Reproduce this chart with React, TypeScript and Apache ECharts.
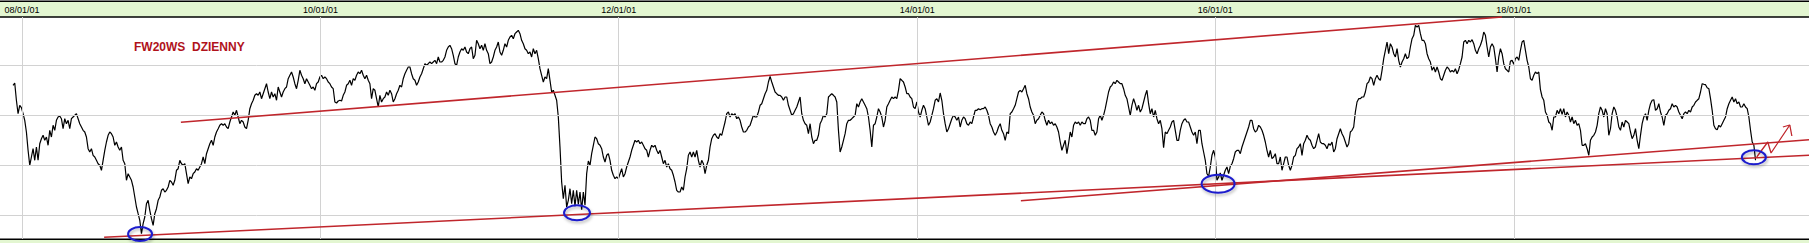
import React, { useEffect, useRef } from 'react';
import * as echarts from 'echarts';

// ---------- data ----------
const chartTitle = 'FW20WS  DZIENNY';
const firstSample = '2007-12-10';
const sampleStepHours = 98; // one reading roughly every four days

// closes, in chronological order
const closes2008_2009 = [
  2797, 2820, 2647, 2513, 2597, 2573, 2513, 2447, 2330, 2147,
  1997, 2080, 2163, 2047, 2180, 2047, 2213, 2263, 2297, 2247,
  2280, 2197, 2347, 2280, 2397, 2347, 2447, 2480, 2490, 2463,
  2363, 2463, 2413, 2447, 2363, 2463, 2480, 2497, 2513, 2463,
  2413, 2380, 2347, 2330, 2280, 2163, 2130, 2163, 2097, 2080,
  2047, 2013, 1997, 1947, 2047, 2147, 2230, 2297, 2330, 2313,
  2280, 2197, 2230, 2180, 2147, 2180, 2047, 2013, 1847, 1913,
  1880, 1847, 1780, 1680, 1580, 1513, 1447, 1313, 1413, 1480,
  1613, 1647, 1547, 1463, 1397, 1513, 1563, 1647, 1680, 1747,
  1763, 1730, 1747, 1780, 1847, 1830, 1797, 1847, 1947, 1963,
  2047, 2013, 1997, 2013, 1913, 1813, 1880, 1863, 1913, 1930,
  1963, 1947, 1980, 2013, 2080, 2013, 2113, 2163, 2213, 2247,
  2197, 2280, 2330, 2363, 2397, 2413, 2397, 2413, 2380, 2363,
  2430, 2480, 2530, 2497, 2547, 2480, 2413, 2447, 2430, 2380,
  2363, 2447, 2563, 2613, 2647, 2697, 2713, 2697, 2730, 2663,
  2713, 2763, 2813, 2730, 2663, 2730, 2680, 2713, 2647, 2780,
  2730, 2680, 2730, 2763, 2780, 2863, 2897, 2930, 2880, 2813,
  2763, 2847,
];
const closes2009_2011 = [
  2947, 2897, 2863, 2813, 2863, 2830, 2797, 2763, 2780, 2747,
  2813, 2830, 2880, 2897, 2863, 2880, 2863, 2830, 2813, 2780,
  2763, 2630, 2620, 2640, 2647, 2640, 2697, 2730, 2797, 2813,
  2847, 2797, 2863, 2847, 2897, 2930, 2913, 2947, 2897, 2863,
  2897, 2847, 2813, 2663, 2763, 2747, 2663, 2580, 2697, 2630,
  2663, 2680, 2730, 2697, 2747, 2713, 2630, 2663, 2713, 2747,
  2797, 2780, 2863, 2913, 2947, 2980, 2980, 2913, 2863, 2847,
  2797, 2830, 2880, 2913, 2963, 3013, 2997, 3013, 3030, 3013,
  3030, 3047, 3013, 3080, 3030, 3030, 3047, 3080, 3147, 3180,
  3197, 3163, 3097, 3013, 2997, 3080, 3130, 3163, 3147, 3180,
  3130, 3113, 3163, 3180, 3063, 3097, 3247, 3213, 3163, 3197,
  3147, 3213, 3147, 3113, 3013, 3030, 3080, 3147, 3180, 3230,
  3130, 3097, 3147, 3213, 3180, 3247, 3280, 3297, 3263, 3313,
  3330, 3347, 3313, 3247, 3213, 3163, 3147, 3113, 3130, 3080,
  3163, 3113, 3147, 3063, 2963, 2897, 2830, 2880, 2863, 2963,
  2847, 2730, 2747, 2697, 2647, 2480, 2180, 1830, 1663, 1797,
  1580, 1647, 1763, 1613, 1747, 1587, 1747, 1607, 1730, 1553,
  1730, 1597, 1913, 2040, 1997, 2113, 2197, 2280, 2263, 2213,
];
const closes2011_2013 = [
  2197, 2163, 2080, 2030, 2097, 2113, 2047, 1947, 1897, 1863,
  1880, 1863, 1913, 1963, 1880, 1913, 1980, 2030, 2080, 2147,
  2197, 2247, 2230, 2247, 2213, 2230, 2197, 2163, 2147, 2080,
  2147, 2197, 2180, 2197, 2147, 2113, 2147, 2080, 2013, 2047,
  1980, 2013, 1963, 1947, 1897, 1830, 1747, 1730, 1730, 1780,
  1747, 1880, 1963, 2097, 2130, 2080, 2130, 2080, 2147, 2047,
  1980, 2047, 2013, 1913, 1997, 2047, 2180, 2263, 2297, 2313,
  2280, 2263, 2313, 2297, 2363, 2430, 2513, 2530, 2480, 2513,
  2497, 2513, 2463, 2480, 2447, 2380, 2330, 2330, 2347, 2380,
  2397, 2447, 2497, 2480, 2480, 2530, 2597, 2613, 2663, 2713,
  2747, 2830, 2887, 2830, 2780, 2730, 2713, 2697, 2697, 2680,
  2647, 2680, 2680, 2597, 2547, 2497, 2513, 2547, 2580, 2630,
  2680, 2513, 2447, 2413, 2397, 2313, 2413, 2280, 2213, 2247,
  2247, 2297, 2413, 2447, 2497, 2480, 2513, 2680, 2697, 2713,
  2697, 2680, 2630, 2347, 2130, 2180, 2247, 2313, 2413, 2447,
  2447, 2463, 2480, 2497, 2613, 2580, 2630, 2663, 2630, 2597,
  2563, 2480, 2347, 2180, 2397, 2413, 2480, 2563, 2530, 2480,
  2380, 2447, 2580, 2613, 2647, 2680, 2663, 2680, 2663, 2747,
];
const closes2013_2015 = [
  2863, 2847, 2830, 2780, 2713, 2713, 2680, 2663, 2580, 2563,
  2630, 2530, 2480, 2547, 2597, 2563, 2480, 2397, 2430, 2497,
  2563, 2647, 2663, 2630, 2720, 2647, 2513, 2413, 2330, 2363,
  2413, 2463, 2497, 2480, 2447, 2480, 2380, 2447, 2480, 2463,
  2413, 2397, 2430, 2413, 2480, 2547, 2547, 2563, 2553, 2563,
  2563, 2580, 2547, 2497, 2413, 2380, 2330, 2297, 2330, 2380,
  2413, 2347, 2313, 2247, 2330, 2313, 2513, 2530, 2563, 2597,
  2663, 2730, 2747, 2730, 2763, 2797, 2713, 2663, 2580, 2530,
  2497, 2413, 2447, 2463, 2497, 2530, 2513, 2447, 2397, 2447,
  2413, 2430, 2397, 2413, 2380, 2330, 2230, 2147, 2197, 2247,
  2113, 2213, 2330, 2280, 2397, 2430, 2413, 2430, 2397, 2430,
  2413, 2413, 2463, 2480, 2447, 2347, 2347, 2297, 2330, 2463,
  2497, 2447, 2497, 2563, 2647, 2730, 2780, 2797, 2830, 2813,
  2847, 2830, 2813, 2813, 2763, 2697, 2663, 2580, 2497, 2597,
  2663, 2613, 2547, 2597, 2530, 2563, 2630, 2697, 2747, 2613,
  2513, 2563, 2480, 2547, 2463, 2413, 2447, 2363, 2173, 2330,
  2313, 2347, 2380, 2430, 2447, 2347, 2247, 2247, 2347, 2413,
  2447, 2463, 2430, 2430, 2380, 2330, 2297, 2330, 2213, 2347,
];
const closes2015_2017 = [
  2347, 2213, 2130, 2047, 1913, 1887, 1980, 2097, 2147, 2080,
  1847, 1880, 1920, 1847, 1897, 1947, 1980, 1913, 1987, 2013,
  2063, 2130, 2147, 2147, 2113, 2180, 2230, 2280, 2330, 2380,
  2447, 2447, 2363, 2330, 2347, 2397, 2380, 2347, 2297, 2230,
  2147, 2080, 2147, 2063, 2080, 2113, 2013, 2013, 2080, 1947,
  2013, 2080, 2080, 1997, 1947, 1997, 2080, 2097, 2163, 2180,
  2213, 2097, 2213, 2247, 2297, 2263, 2247, 2197, 2163, 2180,
  2247, 2313, 2230, 2213, 2213, 2197, 2163, 2213, 2197, 2230,
  2130, 2163, 2263, 2313, 2363, 2313, 2280, 2230, 2180, 2213,
  2330, 2347, 2380, 2530, 2630, 2663, 2663, 2680, 2680, 2730,
  2813, 2830, 2880, 2863, 2797, 2863, 2897, 2863, 2847, 2947,
  3063, 3147, 3230, 3113, 3213, 3180, 3113, 3080, 3163, 3047,
  2980, 3030, 3063, 3113, 3063, 3080, 3180, 3263, 3297, 3397,
  3380, 3397, 3313, 3247, 3247, 3213, 3113, 3063, 3030, 2947,
  2980, 2930, 2980, 2930, 2863, 2847, 2897, 2947, 2980, 2963,
  2930, 2947, 2930, 2963, 2913, 2953, 3013, 3080, 3230, 3247,
  3213, 3247, 3230, 3253, 3213, 3147, 3113, 3163, 3197, 3247,
  3330, 3297, 3180, 3080, 3180, 3213, 3180, 3063, 2930, 3080,
];
const closes2017_2019 = [
  3163, 3113, 3013, 2963, 2947, 2930, 3040, 3047, 3007, 3063,
  3080, 3047, 3147, 3230, 3247, 3147, 3047, 2980, 2863, 2847,
  2897, 2930, 2913, 2930, 2753, 2680, 2647, 2530, 2497, 2430,
  2413, 2347, 2480, 2480, 2547, 2513, 2563, 2507, 2563, 2480,
  2530, 2497, 2430, 2480, 2413, 2447, 2397, 2413, 2347, 2197,
  2197, 2213, 2163, 2097, 2247, 2280, 2297, 2330, 2397, 2513,
  2580, 2547, 2480, 2563, 2513, 2297, 2363, 2513, 2580, 2547,
  2480, 2380, 2347, 2430, 2380, 2447, 2430, 2413, 2330, 2263,
  2297, 2363, 2247, 2163, 2297, 2413, 2480, 2513, 2447, 2547,
  2613, 2647, 2653, 2547, 2563, 2613, 2530, 2480, 2397, 2497,
  2513, 2547, 2563, 2613, 2580, 2597, 2580, 2530, 2497, 2463,
  2513, 2530, 2513, 2547, 2530, 2580, 2597, 2630, 2647, 2663,
  2730, 2813, 2807, 2803, 2773, 2763, 2663, 2547, 2397, 2363,
  2353, 2397, 2380, 2413, 2447, 2480, 2563, 2613, 2647, 2680,
  2630, 2663, 2613, 2630, 2580, 2580, 2613, 2580, 2563, 2480,
  2347, 2230, 2197, 2047,
];

const axisStart = '2007-11-08';
const axisEnd = '2019-12-25';
const valueMin = 1260;
const valueMax = 3480;

const yearTicks = ['2008-01-01', '2010-01-01', '2012-01-01', '2014-01-01', '2016-01-01', '2018-01-01'];
const yearTickLabels = ['08/01/01', '10/01/01', '12/01/01', '14/01/01', '16/01/01', '18/01/01'];
const levelLines = [1500, 2000, 2500, 3000];

// trend lines: [start, end] as [date, value]
const trendLines: [string, number][][] = [
  [['2008-07-20', 1277], ['2019-12-25', 2097]],
  [['2014-09-12', 1643], ['2019-12-25', 2253]],
  [['2009-01-24', 2427], ['2017-12-03', 3480]],
];
// circled lows
const lowMarks: [string, number][] = [
  ['2008-10-16', 1310],
  ['2011-09-21', 1522],
  ['2016-01-08', 1812],
  ['2019-08-12', 2077],
];
// forecast zig-zag arrow
const forecastPath: [string, number][] = [
  ['2019-08-19', 2080], ['2019-09-15', 2230], ['2019-09-23', 2120], ['2019-11-08', 2400],
];
const forecastHead: [string, number][] = [
  ['2019-10-22', 2380], ['2019-11-08', 2400], ['2019-11-13', 2290],
];

// ---------- styles ----------
const lowMarkRadii = [[12, 7], [13, 7.5], [16.5, 9], [12, 7]];
const RED = '#c0262c';
const BLUE = '#1c1ccc';
const GRID = '#d2d2d2';
const HEADER_GREEN = '#e3f6d1';
const W = 1809;
const H = 243;

const ts = (s: string) => {
  const [y, m, d] = s.split('-').map(Number);
  return Date.UTC(y, m - 1, d);
};

export default function App() {
  const ref = useRef<HTMLDivElement>(null);

  useEffect(() => {
    if (!ref.current) return;
    const chart = echarts.init(ref.current, null, { renderer: 'svg' });

    const closes = [
      ...closes2008_2009, ...closes2009_2011, ...closes2011_2013,
      ...closes2013_2015, ...closes2015_2017, ...closes2017_2019,
    ];
    const t0 = ts(firstSample);
    const stepMs = sampleStepHours * 3600000;
    const priceData = closes.map((v, i) => [t0 + i * stepMs, v]);

    chart.setOption({
      animation: false,
      backgroundColor: '#ffffff',
      title: {
        text: chartTitle,
        left: 134,
        top: 41,
        padding: 0,
        textStyle: { color: '#b0121b', fontSize: 12, fontWeight: 'bold', fontFamily: 'Arial, Liberation Sans, sans-serif' },
      },
      grid: { left: 0, right: 0, top: 17, bottom: 4 },
      xAxis: { type: 'time', min: ts(axisStart), max: ts(axisEnd), show: false },
      yAxis: { type: 'value', min: valueMin, max: valueMax, show: false },
      graphic: [
        { type: 'rect', z: 0, shape: { x: 0, y: 1, width: W, height: 16 }, style: { fill: HEADER_GREEN } },
        { type: 'rect', z: 0, shape: { x: 0, y: 239.5, width: W, height: 4 }, style: { fill: HEADER_GREEN } },
        { type: 'line', z: 0, shape: { x1: 0, y1: 1.2, x2: W, y2: 1.2 }, style: { stroke: '#000', lineWidth: 1.4 } },
        { type: 'line', z: 0, shape: { x1: 0, y1: 17, x2: W, y2: 17 }, style: { stroke: '#000', lineWidth: 1.4 } },
        { type: 'line', z: 0, shape: { x1: 0, y1: 239.3, x2: W, y2: 239.3 }, style: { stroke: '#000', lineWidth: 1.4 } },
      ],
      series: [
        {
          type: 'line',
          data: [],
          z: 1,
          silent: true,
          markLine: {
            silent: true,
            symbol: ['none', 'none'],
            lineStyle: { color: GRID, width: 1, type: 'solid' },
            data: [
              ...levelLines.map((v) => ({ yAxis: v, label: { show: false } })),
              ...yearTicks.map((d, i) => ({
                xAxis: ts(d),
                label: {
                  show: true,
                  position: 'end',
                  formatter: yearTickLabels[i],
                  color: '#000',
                  fontSize: 9,
                  fontFamily: 'Arial, Liberation Sans, sans-serif',
                  distance: 3,
                },
              })),
            ],
          },
        },
        {
          name: 'FW20WS',
          type: 'line',
          data: priceData,
          z: 3,
          symbol: 'none',
          showSymbol: false,
          lineStyle: { color: '#000', width: 1.2 },
          clip: true,
        },
        {
          type: 'line',
          data: [],
          z: 4,
          silent: true,
          markLine: {
            silent: true,
            symbol: ['none', 'none'],
            label: { show: false },
            lineStyle: { color: RED, width: 1.6, type: 'solid' },
            data: trendLines.map(([a, b]) => [
              { coord: [ts(a[0]), a[1]] },
              { coord: [ts(b[0]), b[1]] },
            ]),
          },
        },
        {
          type: 'line',
          data: forecastPath.map(([d, v]) => [ts(d), v]),
          z: 5,
          symbol: 'none',
          showSymbol: false,
          lineStyle: { color: RED, width: 1.3 },
        },
        {
          type: 'line',
          data: forecastHead.map(([d, v]) => [ts(d), v]),
          z: 5,
          symbol: 'none',
          showSymbol: false,
          lineStyle: { color: RED, width: 1.3 },
        },
        {
          type: 'custom',
          z: 6,
          data: lowMarks.map(([d, v]) => [ts(d), v]),
          encode: { x: 0, y: 1 },
          clip: false,
          renderItem: (params: any, api: any) => {
            const p = api.coord([api.value(0), api.value(1)]);
            const r = lowMarkRadii[params.dataIndex];
            return {
              type: 'ellipse',
              shape: { cx: p[0], cy: p[1], rx: r[0], ry: r[1] },
              style: {
                fill: 'none',
                stroke: BLUE,
                lineWidth: 2,
                shadowBlur: 3,
                shadowOffsetX: 1,
                shadowOffsetY: 2,
                shadowColor: 'rgba(0,0,0,0.3)',
              },
            };
          },
        },
      ],
    });

    return () => chart.dispose();
  }, []);

  return (
    <div
      ref={ref}
      style={{ position: 'fixed', left: 0, top: 0, width: W, height: H, background: '#fff' }}
    />
  );
}
